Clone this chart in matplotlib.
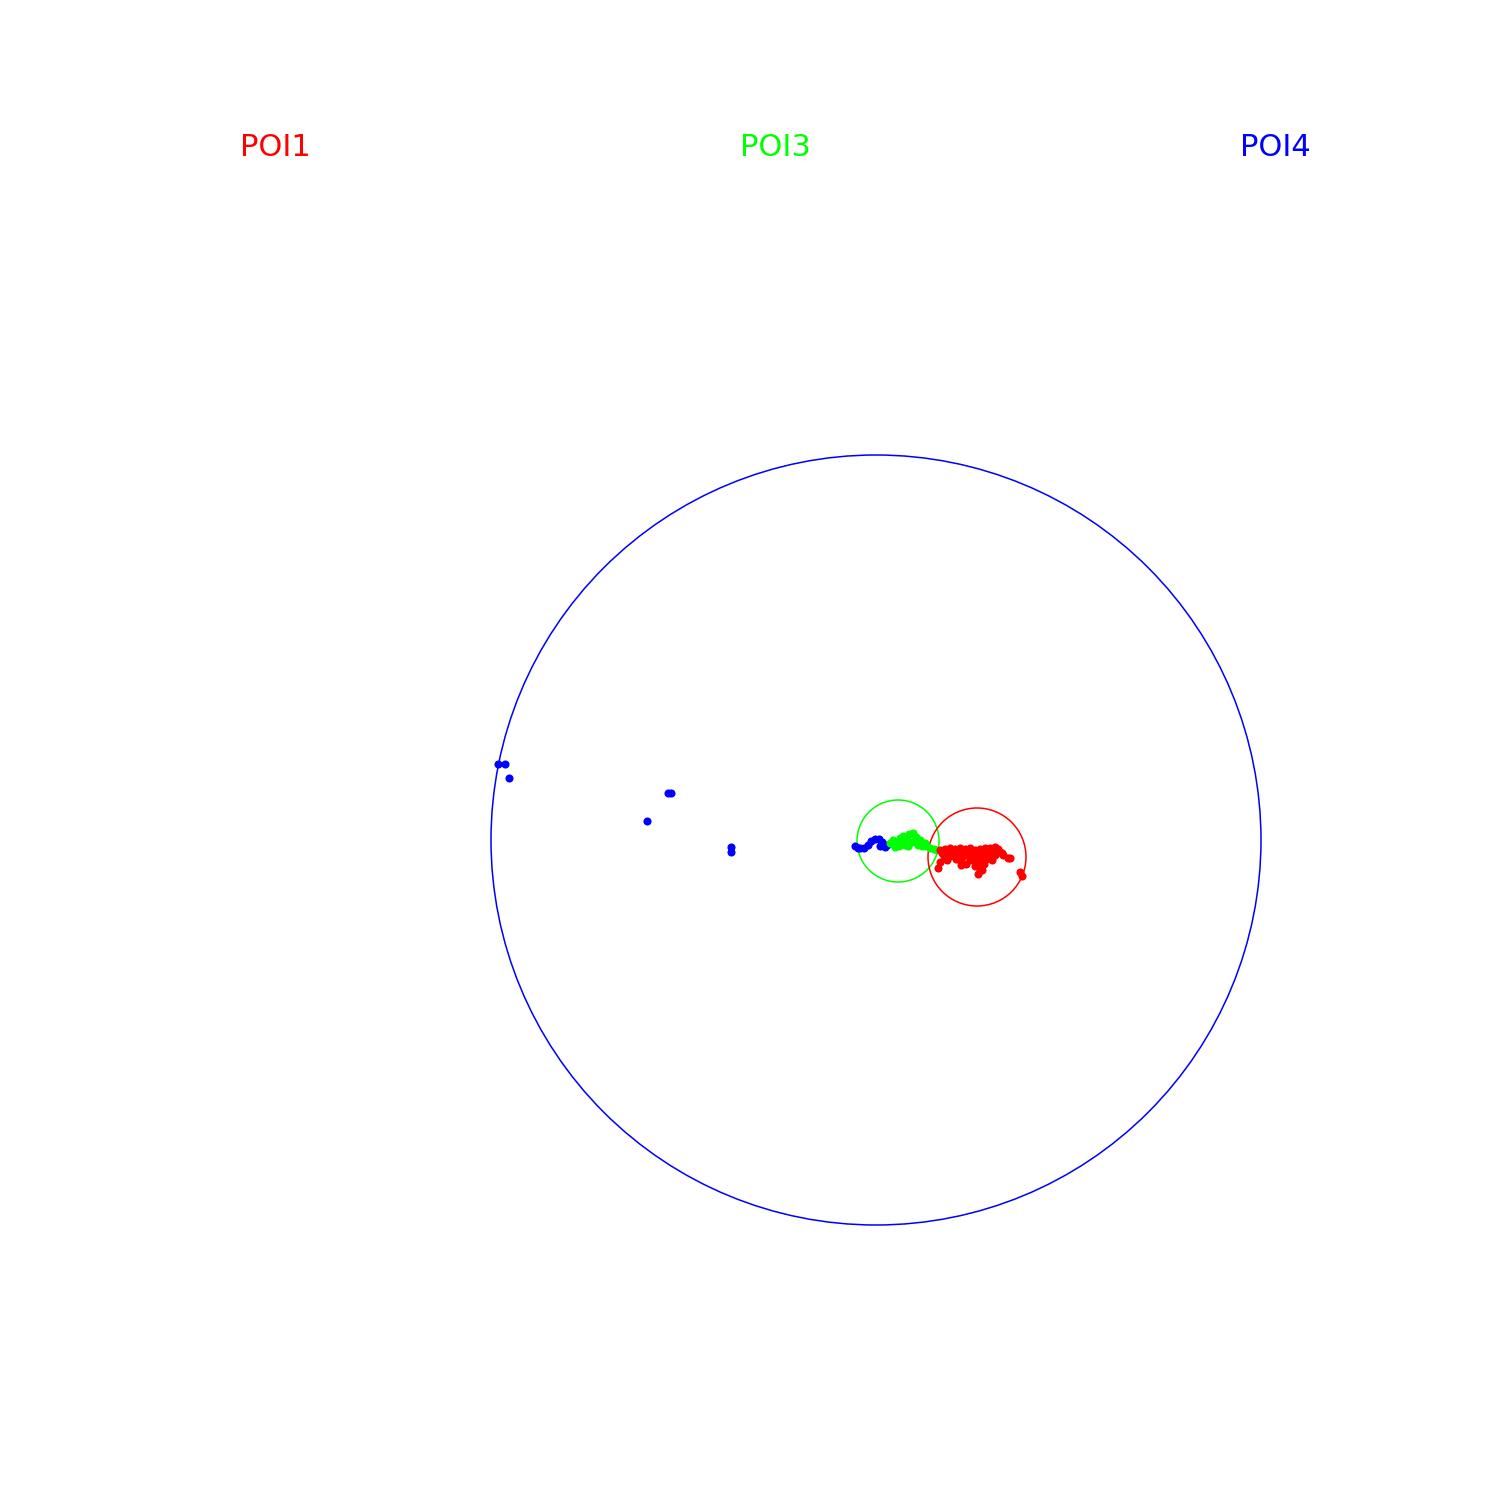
import numpy as np
import matplotlib.pyplot as plt
from matplotlib.patches import Circle

# Значения (единицы: пиксели исходного рисунка, y вниз)
labels = ['POI1', 'POI3', 'POI4']
label_colors = ['#ff0000', '#00ff00', '#0000ff']

# Окружности: центр и радиус
circ_x = [876, 898, 977]
circ_y = [840, 841, 857]
circ_r = [385, 41, 49]
circ_colors = ['#0000ff', '#00ff00', '#ff0000']

# Точки POI4 (синие)
blue_x = [498, 505, 509, 668, 671, 647, 731, 731,
          855, 858, 860, 864, 868, 871, 875, 879, 882, 885, 880, 887]
blue_y = [764, 764, 778, 793, 793, 821, 847, 852,
          846, 848, 848, 848, 845, 841, 839, 839, 842, 847, 846, 845]

# Точки POI3 (зелёные)
green_x = [890, 893, 896, 900, 903, 906, 909, 913, 916, 912, 905, 899,
           895, 908, 918, 922, 926, 930, 934, 937, 920, 902, 915, 925]
green_y = [843, 840, 842, 838, 836, 838, 834, 833, 837, 842, 845, 846,
           847, 846, 845, 846, 846, 848, 849, 850, 840, 841, 841, 843]

# Точки POI1 (красные)
red_x = [940, 945, 950, 955, 960, 965, 970, 975, 980, 985, 990, 995, 998,
         1000, 1003, 1008, 940, 945, 950, 955, 960, 963, 968, 972, 976,
         980, 983, 987, 990, 978, 982, 1020, 1022, 938, 947, 957, 966,
         992, 970, 985,
         942, 948, 953, 958, 963, 968, 973, 978, 983, 988, 993, 998,
         944, 952, 960, 967, 974, 981, 988, 995, 1002,
         956, 962, 970, 975, 980, 986, 961, 975, 984, 980, 1010]
red_y = [850, 849, 848, 849, 848, 849, 848, 850, 849, 848, 848, 847, 849,
         852, 855, 858, 862, 858, 856, 856, 860, 853, 855, 858, 862,
         866, 861, 857, 855, 874, 870, 872, 876, 868, 860, 852, 864,
         860, 852, 852,
         853, 852, 853, 852, 851, 852, 853, 852, 853, 852, 851, 852,
         856, 855, 856, 855, 856, 857, 856, 855, 853,
         859, 857, 860, 862, 860, 859, 865, 866, 864, 870, 858]

fig = plt.figure(figsize=(15, 15), dpi=100)
ax = fig.add_axes([0, 0, 1, 1])
ax.set_xlim(0, 1500)
ax.set_ylim(1500, 0)
ax.set_aspect('equal')
ax.axis('off')

for cx, cy, r, c in zip(circ_x, circ_y, circ_r, circ_colors):
    ax.add_patch(Circle((cx, cy), r, fill=False, edgecolor=c, linewidth=1.1))

ax.scatter(blue_x, blue_y, s=34, color='#0000ff', linewidths=0, zorder=3)
ax.scatter(green_x, green_y, s=34, color='#00ff00', linewidths=0, zorder=3)
ax.scatter(red_x, red_y, s=34, color='#ff0000', linewidths=0, zorder=3)

# Подписи сверху
for i, (lab, col) in enumerate(zip(labels, label_colors)):
    fig.text((275 + 500 * i) / 1500, 1 - 148 / 1500, lab, color=col,
             fontsize=22, ha='center', va='center')

fig.savefig('out.png', dpi=100)
